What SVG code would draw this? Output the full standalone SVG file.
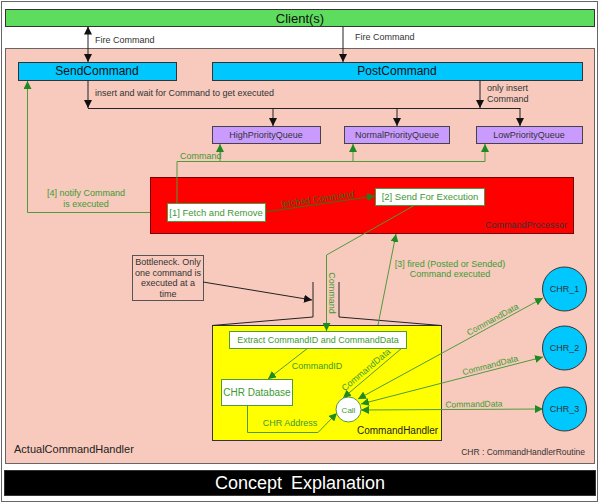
<svg xmlns="http://www.w3.org/2000/svg" width="600" height="503" viewBox="0 0 600 503">
<style>
text{font-family:"Liberation Sans",Arial,sans-serif;}
.t9{font-size:9px;fill:#333;}
.g9{font-size:9px;fill:#3c9a32;}
.blk{stroke:#222;stroke-width:1;fill:none;}
.grn{stroke:#4f9a3c;stroke-width:1;fill:none;}
.wbox{fill:#fff;stroke:#4f9a3c;stroke-width:1;}
.queue{fill:#c99bff;stroke:#444;stroke-width:1;}
.cyan{fill:#00c8ff;stroke:#333;stroke-width:1;}
</style>
<defs>
<marker id="ab" viewBox="0 0 10 10" refX="10" refY="5" markerWidth="8" markerHeight="8" markerUnits="userSpaceOnUse" orient="auto-start-reverse"><path d="M0,0 L10,5 L0,10 z" fill="#111"/></marker>
<marker id="ag" viewBox="0 0 10 10" refX="10" refY="5" markerWidth="8" markerHeight="8" markerUnits="userSpaceOnUse" orient="auto-start-reverse"><path d="M0,0 L10,5 L0,10 z" fill="#1f8a1f"/></marker>
<marker id="ad" viewBox="0 0 10 10" refX="10" refY="5" markerWidth="8" markerHeight="8" markerUnits="userSpaceOnUse" orient="auto-start-reverse"><path d="M0,0 L10,5 L0,10 z" fill="#2a7a1a"/></marker>
</defs>
<rect x="1.5" y="1.5" width="596" height="500" fill="#fff" stroke="#666"/>
<g id="client"><rect x="5.5" y="9.5" width="589" height="17" fill="#5ddc5d" stroke="#333"/><text x="300" y="22.5" text-anchor="middle" font-size="13" fill="#111">Client(s)</text></g>
<g id="actualCommandHandler"><rect x="5.5" y="48.5" width="589" height="415" fill="#f8cabd" stroke="#666"/><text x="14" y="453" font-size="11" fill="#222">ActualCommandHandler</text><text x="585" y="455" text-anchor="end" font-size="8.5" fill="#333">CHR : CommandHandlerRoutine</text></g>
<g id="sendCommand"><rect x="18.5" y="62.5" width="158" height="18" class="cyan"/><text x="97" y="75" text-anchor="middle" font-size="12" fill="#111">SendCommand</text></g>
<g id="postCommand"><rect x="212.5" y="62.5" width="370" height="18" class="cyan"/><text x="397" y="75" text-anchor="middle" font-size="12" fill="#111">PostCommand</text></g>
<g id="highQ"><rect x="212.5" y="126.5" width="108" height="17" class="queue"/><text x="266" y="137.5" text-anchor="middle" class="t9">HighPriorityQueue</text></g>
<g id="normalQ"><rect x="344.5" y="126.5" width="105" height="17" class="queue"/><text x="397" y="137.5" text-anchor="middle" class="t9">NormalPriorityQueue</text></g>
<g id="lowQ"><rect x="476.5" y="126.5" width="106" height="17" class="queue"/><text x="529" y="137.5" text-anchor="middle" class="t9">LowPriorityQueue</text></g>
<g id="commandProcessor"><rect x="150.5" y="177.5" width="423" height="56" fill="#ff0000" stroke="#700"/><text x="485" y="228" class="t9">CommandProcessor</text></g>
<g id="bottleneck"><rect x="132.5" y="255.5" width="71" height="45" fill="#f8cabd" stroke="#555"/><text text-anchor="middle" class="t9"><tspan x="168" y="265">Bottleneck. Only</tspan><tspan x="168" y="276">one command is</tspan><tspan x="168" y="286">executed at a</tspan><tspan x="168" y="297">time</tspan></text></g>
<g id="commandHandler"><rect x="212.5" y="325.5" width="229" height="115" fill="#ffff00" stroke="#333"/><text x="357" y="434" font-size="10" fill="#222">CommandHandler</text></g>
<g id="funnel"><polyline points="313,282 313,317 212,325.5" class="blk"/><polyline points="339,282 339,317 441,325.5" class="blk"/></g>
<g id="connectors">
<line x1="88" y1="26.5" x2="88" y2="62" class="blk" marker-start="url(#ab)" marker-end="url(#ab)"/>
<line x1="343" y1="26.5" x2="343" y2="62" class="blk" marker-end="url(#ab)"/>
<line x1="88" y1="80.5" x2="88" y2="108" class="blk" marker-end="url(#ab)"/>
<line x1="480" y1="80.5" x2="480" y2="108" class="blk" marker-end="url(#ab)"/>
<line x1="88" y1="108.5" x2="520.5" y2="108.5" class="blk"/>
<line x1="273" y1="108.5" x2="273" y2="126" class="blk" marker-end="url(#ab)"/>
<line x1="397" y1="108.5" x2="397" y2="126" class="blk" marker-end="url(#ab)"/>
<line x1="520" y1="108.5" x2="520" y2="126" class="blk" marker-end="url(#ab)"/>
<polyline points="177,203 177,161.5 485,161.5 485,144" class="grn" marker-end="url(#ag)"/>
<line x1="220" y1="161.5" x2="220" y2="144" class="grn" marker-end="url(#ag)"/>
<line x1="353" y1="161.5" x2="353" y2="144" class="grn" marker-end="url(#ag)"/>
<polyline points="150,212.5 27.5,212.5 27.5,81" class="grn" marker-end="url(#ag)"/>
<line x1="265" y1="212" x2="375" y2="196" stroke="#2a7a1a" marker-end="url(#ad)"/>
<polyline points="415,205 326.5,255 326.5,331" class="grn" marker-end="url(#ag)"/>
<line x1="378" y1="325" x2="396" y2="234" class="grn" marker-end="url(#ag)"/>
<line x1="203" y1="282" x2="312" y2="300" class="blk" marker-end="url(#ab)"/>
<line x1="308" y1="348" x2="268" y2="379" class="grn" marker-end="url(#ag)"/>
<line x1="402" y1="348" x2="343" y2="398" class="grn" marker-end="url(#ag)"/>
<polyline points="247.5,405 247.5,432.5 318,432.5 337,413" class="grn" marker-end="url(#ag)"/>
<line x1="358" y1="399" x2="543" y2="298" class="grn" marker-start="url(#ag)" marker-end="url(#ag)"/>
<line x1="361" y1="404" x2="543" y2="357" class="grn" marker-start="url(#ag)" marker-end="url(#ag)"/>
<line x1="361" y1="410" x2="543" y2="409" class="grn" marker-start="url(#ag)" marker-end="url(#ag)"/>
<text x="95" y="43" class="t9">Fire Command</text>
<text x="355" y="40" class="t9">Fire Command</text>
<text x="95" y="96" class="t9">insert and wait for Command to get executed</text>
<text class="t9"><tspan x="487" y="91">only insert</tspan><tspan x="487" y="102">Command</tspan></text>
<text x="180" y="159" class="g9">Command</text>
<text text-anchor="middle" class="g9"><tspan x="86" y="196">[4] notify Command</tspan><tspan x="86" y="207">is executed</tspan></text>
<text x="318" y="202" text-anchor="middle" font-size="9" fill="#2a6a1a" transform="rotate(-8.3 318 202)">fetched Command</text>
<text x="0" y="0" text-anchor="middle" class="g9" transform="translate(328.5 293) rotate(90)">Command</text>
<text text-anchor="middle" class="g9"><tspan x="450" y="267">[3] fired (Posted or Sended)</tspan><tspan x="450" y="277">Command executed</tspan></text>
<text x="317" y="369" text-anchor="middle" class="g9">CommandID</text>
<text x="368" y="372" text-anchor="middle" class="g9" transform="rotate(-40 368 372)">CommandData</text>
<text x="290" y="426" text-anchor="middle" class="g9">CHR Address</text>
<text x="494" y="322" text-anchor="middle" font-size="8.5" fill="#3c9a32" transform="rotate(-28.5 494 322)">CommandData</text>
<text x="491" y="368" text-anchor="middle" font-size="8.5" fill="#3c9a32" transform="rotate(-14.6 491 368)">CommandData</text>
<text x="474" y="407" text-anchor="middle" font-size="8.5" fill="#3c9a32" transform="rotate(-1 474 407)">CommandData</text>
</g>
<g id="fetch"><rect x="167.5" y="203.5" width="98" height="18" class="wbox"/><text x="216" y="215.5" text-anchor="middle" font-size="9.5" fill="#3c9a32">[1] Fetch and Remove</text></g>
<g id="send"><rect x="375.5" y="188.5" width="109" height="17" class="wbox"/><text x="430" y="200" text-anchor="middle" font-size="9.5" fill="#3c9a32">[2] Send For Execution</text></g>
<g id="extract"><rect x="229.5" y="331.5" width="177" height="17" class="wbox"/><text x="318" y="343" text-anchor="middle" class="g9">Extract CommandID and CommandData</text></g>
<g id="chrDatabase"><rect x="221.5" y="379.5" width="71" height="26" class="wbox"/><text x="257" y="396" text-anchor="middle" font-size="10" fill="#3c9a32">CHR Database</text></g>
<g id="call"><circle cx="348.5" cy="409.5" r="12.5" class="wbox"/><text x="348.5" y="412.5" text-anchor="middle" font-size="8" fill="#3c9a32">Call</text></g>
<g id="chr1"><circle cx="564.5" cy="289" r="22" class="cyan"/><text x="564.5" y="292" text-anchor="middle" class="t9">CHR_1</text></g>
<g id="chr2"><circle cx="564.5" cy="348" r="22" class="cyan"/><text x="564.5" y="351" text-anchor="middle" class="t9">CHR_2</text></g>
<g id="chr3"><circle cx="564.5" cy="409" r="22" class="cyan"/><text x="564.5" y="412" text-anchor="middle" class="t9">CHR_3</text></g>
<g id="concept"><rect x="4.5" y="470.5" width="591" height="25" fill="#000" stroke="#333"/><text x="300" y="489" text-anchor="middle" font-size="18" fill="#fff" word-spacing="4">Concept Explanation</text></g>
</svg>
